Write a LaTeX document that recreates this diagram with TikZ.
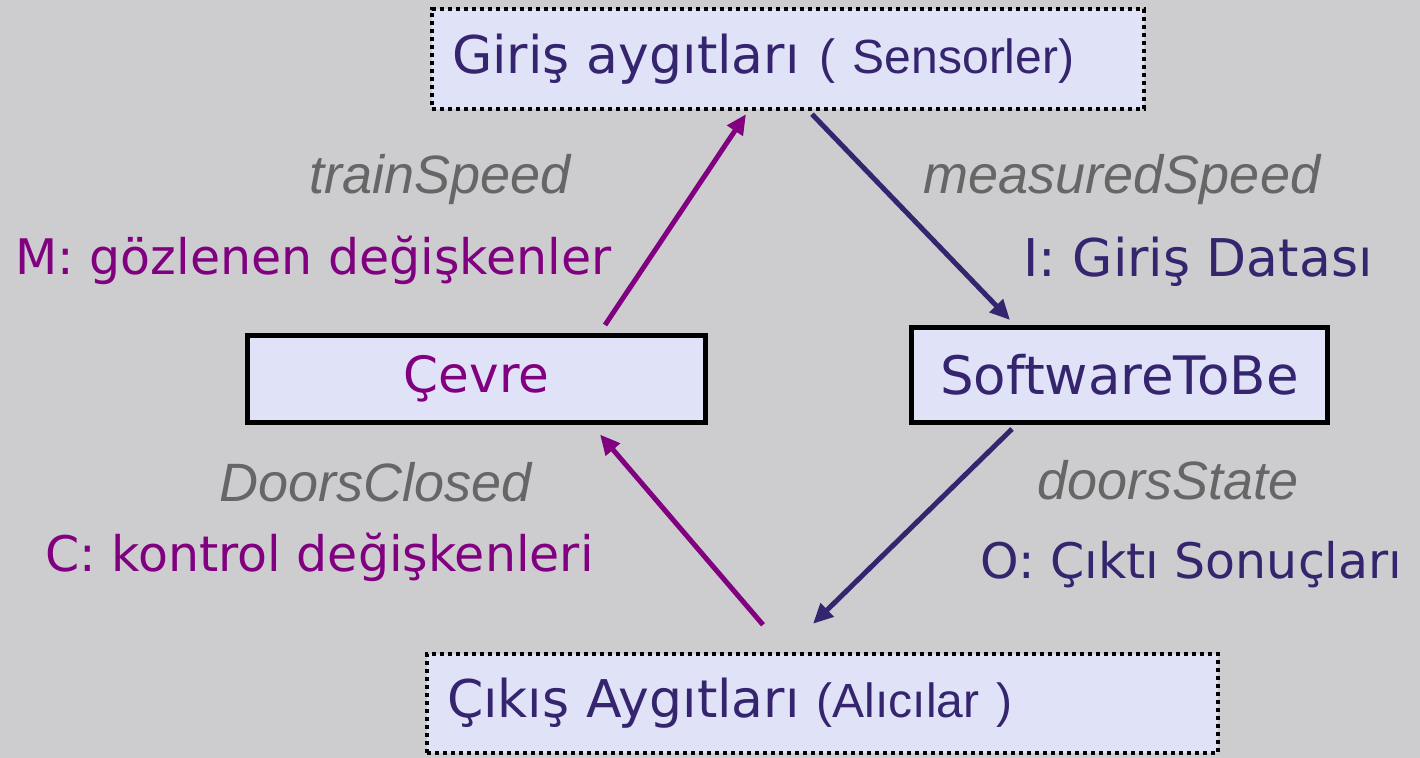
\documentclass[tikz,border=0pt]{standalone}
\usepackage{fontspec}
\setmainfont{DejaVu Sans}
\newfontfamily\arialfont{Liberation Sans}
\usepackage{xcolor}
\usetikzlibrary{arrows.meta,positioning,calc}
\definecolor{bggray}{HTML}{CDCDCF}
\definecolor{boxfill}{HTML}{E0E2F8}
\definecolor{inkblue}{HTML}{35246E}
\definecolor{inkpurple}{HTML}{800080}
\definecolor{labgray}{HTML}{666666}

\begin{document}
\begin{tikzpicture}[x=0.5pt,y=-0.5pt,
  solidbox/.style={draw=black,line width=2.5pt,fill=boxfill,inner sep=0pt,font=\fontsize{25}{30}\selectfont},
  devbox/.style={draw=black,line width=2.2pt,dash pattern=on 2.2pt off 1.8pt,fill=boxfill,inner xsep=10pt,inner ysep=0pt,align=left,text=inkblue,font=\fontsize{26}{30}\selectfont},
  flow/.style={line width=2.5pt,-{Triangle[length=10pt,width=9pt]}},
  varname/.style={text=labgray,font=\arialfont\itshape\fontsize{27}{30}\selectfont},
  vartype/.style={inner sep=0pt,font=\fontsize{24.5}{30}\selectfont}]
\fill[bggray] (0,0) rectangle (1420,758);
% boxes
\node[devbox,text width=336pt,minimum height=50pt] (sensor) at (788,59) {Giriş aygıtları\hspace{10pt}{\arialfont\fontsize{24}{30}\selectfont( Sensorler)}};
\node[solidbox,text=inkpurple,minimum width=229pt,minimum height=43.5pt] (cevre) at (476.5,379) {Çevre};
\node[solidbox,text=inkblue,minimum width=208pt,minimum height=47.5pt,font=\fontsize{26.5}{30}\selectfont] (soft) at (1119.5,375) {SoftwareToBe};
\node[devbox,text width=375.5pt,minimum height=49.5pt] (actuator) at (822.5,703.5) {Çıkış Aygıtları {\arialfont\fontsize{24}{30}\selectfont(Alıcılar )}};
% arrows
\draw[flow,inkpurple] ($(cevre.north)+(128.5,-8)$) -- ($(sensor.south)+(-42,3)$);
\draw[flow,inkblue] ($(sensor.south)+(24,3)$) -- ($(soft.north)+(-109.5,-5)$);
\draw[flow,inkblue] ($(soft.south)+(-107.5,4)$) -- ($(actuator.north)+(-9.5,-28)$);
\draw[flow,inkpurple] ($(actuator.north)+(-59.5,-27)$) -- ($(cevre.south)+(123.5,9.5)$);
% labels
\node[varname] (trainspeed) at (440,180) {trainSpeed};
\node[vartype,text=inkpurple,anchor=west] (monitored) at (15,260) {M: gözlenen değişkenler};
\node[varname] (measured) at (1122,180) {measuredSpeed};
\node[vartype,text=inkblue,font=\fontsize{26}{30}\selectfont] (input) at (1198,262) {I: Giriş Datası};
\node[varname] (doorsclosed) at (376,482) {DoorsClosed};
\node[vartype,text=inkpurple,anchor=west] (controlled) at (45,557) {C: kontrol değişkenleri};
\node[varname] (doorsstate) at (1168,480) {doorsState};
\node[vartype,text=inkblue,anchor=west] (output) at (980,565) {O: Çıktı Sonuçları};
\end{tikzpicture}
\end{document}
